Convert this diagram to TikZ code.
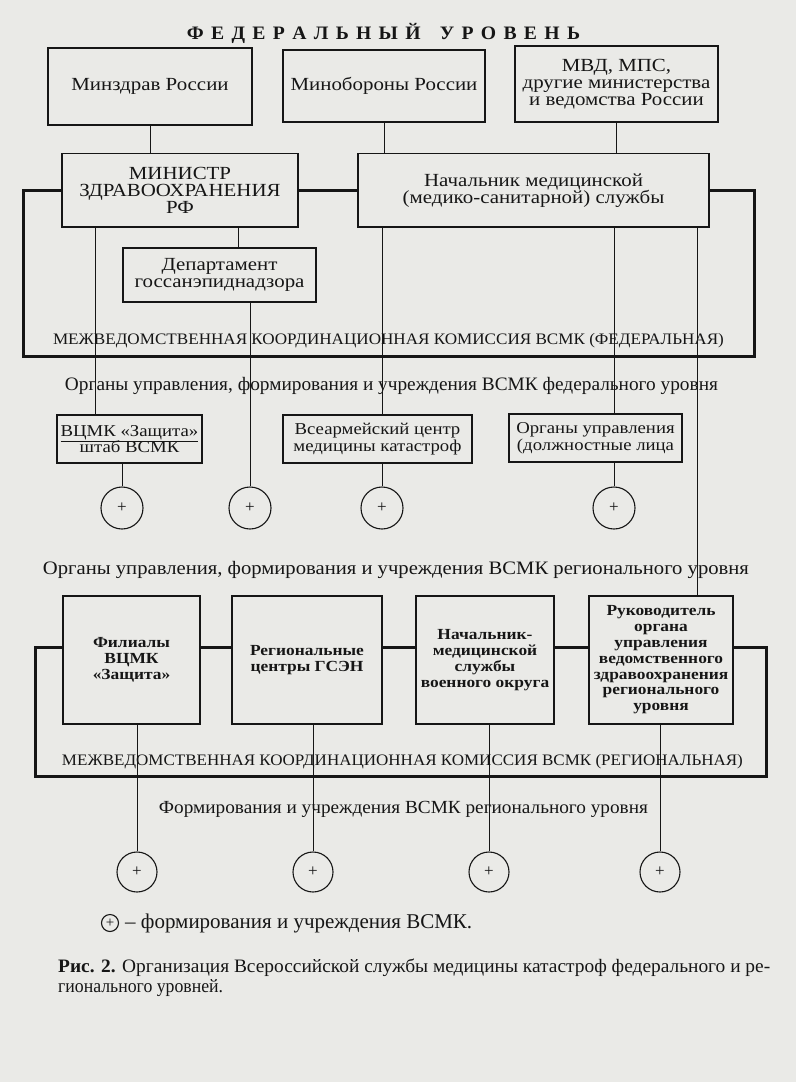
\documentclass[tikz,border=0pt]{standalone}
\usepackage{fontspec}
\usepackage{graphicx}
\setmainfont{Liberation Serif}
\newfontfamily\dg[FakeStretch=1.13]{Liberation Serif}
\newfontfamily\cf{Liberation Serif}
\newcommand{\fitw}[2]{\resizebox{#1}{\height}{#2}}
\newcommand{\lsp}{\hspace{0.42em}}
\newcommand{\tightls}{\lineskiplimit=-20pt\relax}
\definecolor{paper}{RGB}{234,234,231}
\definecolor{ink}{RGB}{22,22,22}
\begin{document}
\begin{tikzpicture}[x=1pt,y=-1pt,
  every node/.style={text=ink},
  topbox/.style={draw=ink, line width=1.1pt, align=center, inner sep=0pt,
    font=\dg\fontsize{18.5}{16.9}\selectfont\tightls},
  fedbox/.style={topbox, font=\dg\fontsize{16.6}{16.7}\selectfont\tightls},
  regbox/.style={topbox, font=\dg\bfseries\fontsize{15.4}{15.8}\selectfont\tightls},
  conn/.style={draw=ink, line width=0.9pt},
  thickframe/.style={draw=ink, line width=3pt},
  plusc/.style={circle, draw=ink, line width=1.1pt, minimum size=42pt, inner sep=0pt,
    font=\cf\fontsize{17}{17}\selectfont},
  lbl/.style={inner sep=0pt, font=\dg\fontsize{19}{20}\selectfont},
  capslbl/.style={inner sep=0pt, font=\dg\fontsize{16}{18}\selectfont},
]
\fill[paper] (0,0) rectangle (796,1082);
\useasboundingbox (0,0) rectangle (796,1082);

% title
\node[inner sep=0pt, font=\dg\bfseries\fontsize{19}{20}\selectfont] (title) at (383.5,33)
  {\fitw{393pt}{Ф\lsp Е\lsp Д\lsp Е\lsp Р\lsp А\lsp Л\lsp Ь\lsp Н\lsp Ы\lsp Й\hspace{1.1em}У\lsp Р\lsp О\lsp В\lsp Е\lsp Н\lsp Ь}};

% top row
\node[topbox, minimum width=204pt, minimum height=77pt] (minzdrav) at (150,86.5) {Минздрав России};
\node[topbox, minimum width=202pt, minimum height=72pt] (minob) at (384,86) {Минобороны России};
\node[topbox, minimum width=203pt, minimum height=76pt] (mvd) at (616.5,84) {МВД, МПС,\\другие министерства\\и ведомства России};

% second row
\node[topbox, minimum width=236pt, minimum height=73.5pt] (minister) at (180,190.25) {МИНИСТР\\ЗДРАВООХРАНЕНИЯ\\РФ};
\node[topbox, minimum width=351pt, minimum height=73.5pt] (nach) at (533.5,190.25) {Начальник медицинской\\(медико-санитарной) службы};
\node[topbox, minimum width=193pt, minimum height=54pt] (dept) at (219.5,275) {Департамент\\госсанэпиднадзора};

% federal frame
\draw[thickframe] (minister.west) -| (23,356) -| (754,190.25) -- (nach.east);
\draw[thickframe] (minister.east) -- (nach.west);
\node[capslbl] (fedcom) at (388.5,341) {\fitw{671pt}{МЕЖВЕДОМСТВЕННАЯ КООРДИНАЦИОННАЯ КОМИССИЯ ВСМК (ФЕДЕРАЛЬНАЯ)}};
\node[lbl] (fedtxt) at (391.5,386) {\fitw{653pt}{Органы управления, формирования и учреждения ВСМК федерального уровня}};

% federal units
\node[fedbox, minimum width=145pt, minimum height=48pt] (vcmk) at (129.5,439) {\underline{ВЦМК «Защита»}\\штаб ВСМК};
\node[fedbox, minimum width=189pt, minimum height=48pt] (vsearm) at (377.5,439) {Всеармейский центр\\медицины катастроф};
\node[fedbox, minimum width=173pt, minimum height=48pt] (organy) at (595.5,438) {Органы управления\\(должностные лица};

\node[plusc] (c1) at (122,508) {+};
\node[plusc] (c2) at (250,508) {+};
\node[plusc] (c3) at (382,508) {+};
\node[plusc] (c4) at (614,508) {+};

\coordinate (l1) at (95,0);
\coordinate (l2) at (697,0);
\coordinate (fr) at (0,647);

% connectors top
\draw[conn] (minzdrav.south) -- (minzdrav.south |- minister.north);
\draw[conn] (minob.south) -- (minob.south |- nach.north);
\draw[conn] (mvd.south) -- (mvd.south |- nach.north);
\draw[conn] ([xshift=58pt]minister.south) -- ([xshift=58pt]minister.south |- dept.north);
\draw[conn] (minister.south -| l1) -- (vcmk.north -| l1);
\draw[conn] (dept.south -| c2) -- (c2.north);
\draw[conn] (nach.south -| c3) -- (vsearm.north -| c3);
\draw[conn] (nach.south -| c4) -- (organy.north -| c4);
\draw[conn] (vcmk.south -| c1) -- (c1.north);
\draw[conn] (vsearm.south -| c3) -- (c3.north);
\draw[conn] (organy.south -| c4) -- (c4.north);

% regional
\node[lbl] (regtxt) at (396,570) {\fitw{706pt}{Органы управления, формирования и учреждения ВСМК регионального уровня}};

\node[regbox, minimum width=137pt, minimum height=128pt] (fil) at (131.5,660) {Филиалы\\ВЦМК\\«Защита»};
\node[regbox, minimum width=150pt, minimum height=128pt] (gsen) at (307,660) {Региональные\\центры ГСЭН};
\node[regbox, minimum width=138pt, minimum height=128pt] (nachvo) at (485,660) {Начальник-\\медицинской\\службы\\военного округа};
\node[regbox, minimum width=144pt, minimum height=128pt] (ruk) at (661,660) {Руководитель\\органа\\управления\\ведомственного\\здравоохранения\\регионального\\уровня};

\draw[conn] (nach.south -| l2) -- (ruk.north -| l2);

\draw[thickframe] (fil.west |- fr) -| (35,776) -| (766,647) -- (ruk.east |- fr);
\draw[thickframe] (fil.east |- fr) -- (gsen.west |- fr);
\draw[thickframe] (gsen.east |- fr) -- (nachvo.west |- fr);
\draw[thickframe] (nachvo.east |- fr) -- (ruk.west |- fr);

\node[capslbl] (regcom) at (402.5,762) {\fitw{681pt}{МЕЖВЕДОМСТВЕННАЯ КООРДИНАЦИОННАЯ КОМИССИЯ ВСМК (РЕГИОНАЛЬНАЯ)}};
\node[lbl, font=\dg\fontsize{18.5}{20}\selectfont] (formtxt) at (403.5,809) {\fitw{489pt}{Формирования и учреждения ВСМК регионального уровня}};

\node[plusc, minimum size=40pt] (c5) at (137,872) {+};
\node[plusc, minimum size=40pt] (c6) at (313,872) {+};
\node[plusc, minimum size=40pt] (c7) at (489,872) {+};
\node[plusc, minimum size=40pt] (c8) at (660,872) {+};

\draw[conn] (fil.south -| c5) -- (c5.north);
\draw[conn] (gsen.south -| c6) -- (c6.north);
\draw[conn] (nachvo.south -| c7) -- (c7.north);
\draw[conn] (ruk.south -| c8) -- (c8.north);

% legend
\node[plusc, minimum size=17pt, font=\cf\fontsize{15}{15}\selectfont] (lg) at (110,923) {+};
\node[anchor=west, inner sep=0pt, font=\cf\fontsize{21}{22}\selectfont] (lgt) at (125,923)
  {\fitw{347pt}{– формирования и учреждения ВСМК.}};

% caption
\node[anchor=west, inner sep=0pt, font=\cf\fontsize{19}{20}\selectfont] (cap1) at (58,968)
  {\fitw{712pt}{\textbf{Рис. 2.} Организация Всероссийской службы медицины катастроф федерального и ре-}};
\node[anchor=west, inner sep=0pt, font=\cf\fontsize{19}{20}\selectfont] (cap2) at (58,988)
  {\fitw{165pt}{гионального уровней.}};
\end{tikzpicture}
\end{document}
